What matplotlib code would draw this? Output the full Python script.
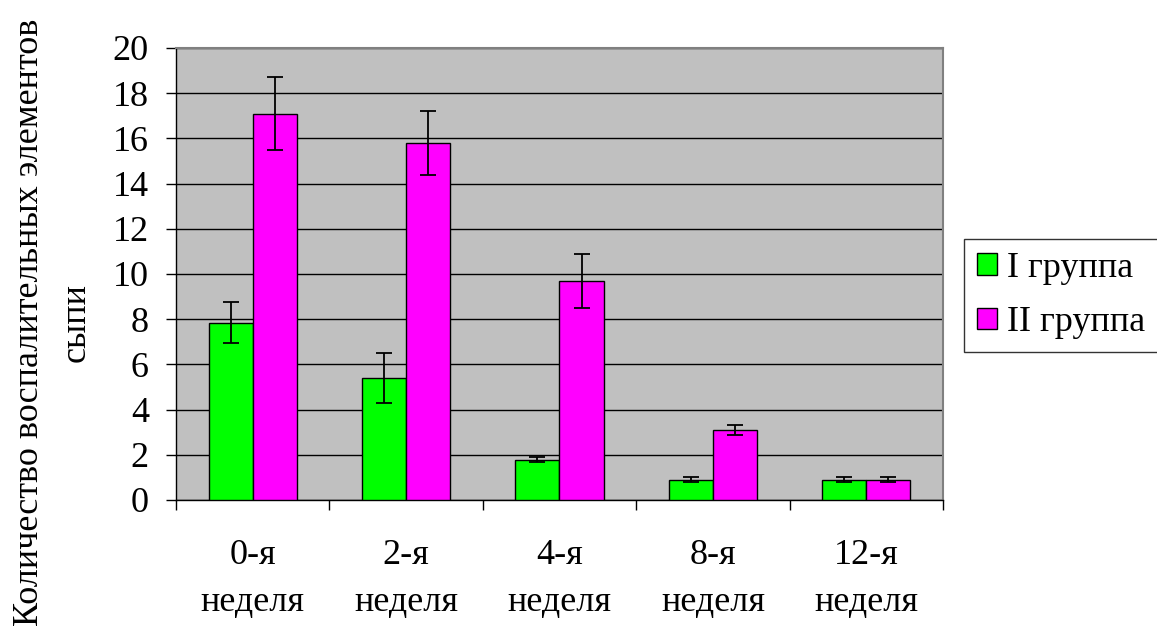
import matplotlib
matplotlib.use("Agg")
import matplotlib.pyplot as plt
import numpy as np
from matplotlib.patches import Patch

categories = ["0-я\nнеделя", "2-я\nнеделя", "4-я\nнеделя", "8-я\nнеделя", "12-я\nнеделя"]
group1 = [7.85, 5.4, 1.78, 0.9, 0.9]
group1_err = [0.9, 1.1, 0.12, 0.1, 0.1]
group2 = [17.1, 15.8, 9.7, 3.1, 0.9]
group2_err = [1.6, 1.4, 1.2, 0.22, 0.1]
series_names = ["I группа", "II группа"]
y_ticks = [0, 2, 4, 6, 8, 10, 12, 14, 16, 18, 20]

plt.rcParams['font.family'] = ['Liberation Serif', 'DejaVu Serif']

W, H = 1157, 635
fig = plt.figure(figsize=(W / 100, H / 100), dpi=100)
ax = fig.add_axes([176 / W, 1 - 500 / H, (943 - 176) / W, (500 - 48) / H])
ax.set_facecolor("#C0C0C0")

x = np.arange(len(categories))
bw = 0.287
err_kw = dict(ecolor="black", elinewidth=1.3, capsize=5.5, capthick=1.3)
ax.bar(x - bw / 2, group1, bw, color="#00FF00", edgecolor="black", linewidth=1.0,
       yerr=group1_err, error_kw=err_kw, zorder=3, label=series_names[0])
ax.bar(x + bw / 2, group2, bw, color="#FF00FF", edgecolor="black", linewidth=1.0,
       yerr=group2_err, error_kw=err_kw, zorder=3, label=series_names[1])

ax.set_xlim(-0.5, len(categories) - 0.5)
ax.set_ylim(0, 20)
ax.set_yticks(y_ticks)
ax.set_yticklabels([str(t) for t in y_ticks])
ax.yaxis.grid(True, color="black", linewidth=1.0, zorder=1)
ax.set_axisbelow(True)

ax.set_xticks(np.arange(len(categories) + 1) - 0.5, minor=False)
ax.set_xticklabels([])
ax.set_xticks(x, minor=True)
ax.set_xticklabels(categories, minor=True, fontsize=26, linespacing=1.55)
ax.tick_params(axis="x", which="major", direction="out", length=7.5, width=1, color="black")
ax.tick_params(axis="x", which="minor", length=0, pad=28)
ax.tick_params(axis="y", direction="out", length=7.5, width=1, labelsize=26, pad=12)

for side in ["left", "bottom"]:
    ax.spines[side].set_color("black")
    ax.spines[side].set_linewidth(1.0)
for side in ["top", "right"]:
    ax.spines[side].set_color("#808080")
    ax.spines[side].set_linewidth(1.5)

fig.text(53 / W, 1 - 322 / H, "Количество воспалительных элементов\nсыпи",
         rotation=90, ha="center", va="center", multialignment="center",
         fontsize=26, linespacing=1.55)

handles = [Patch(facecolor="#00FF00", edgecolor="black"),
           Patch(facecolor="#FF00FF", edgecolor="black")]
leg = fig.legend(handles, series_names, loc="upper left",
                 bbox_to_anchor=(964 / W, 1 - 239 / H, (1160 - 964) / W, 0),
                 mode="expand", fontsize=26,
                 frameon=True, fancybox=False, edgecolor="black",
                 handlelength=0.55, handleheight=0.55, handletextpad=0.3,
                 borderpad=0.35, labelspacing=0.6, borderaxespad=0)
leg.get_frame().set_linewidth(1.0)

fig.savefig("out.png", dpi=100)
